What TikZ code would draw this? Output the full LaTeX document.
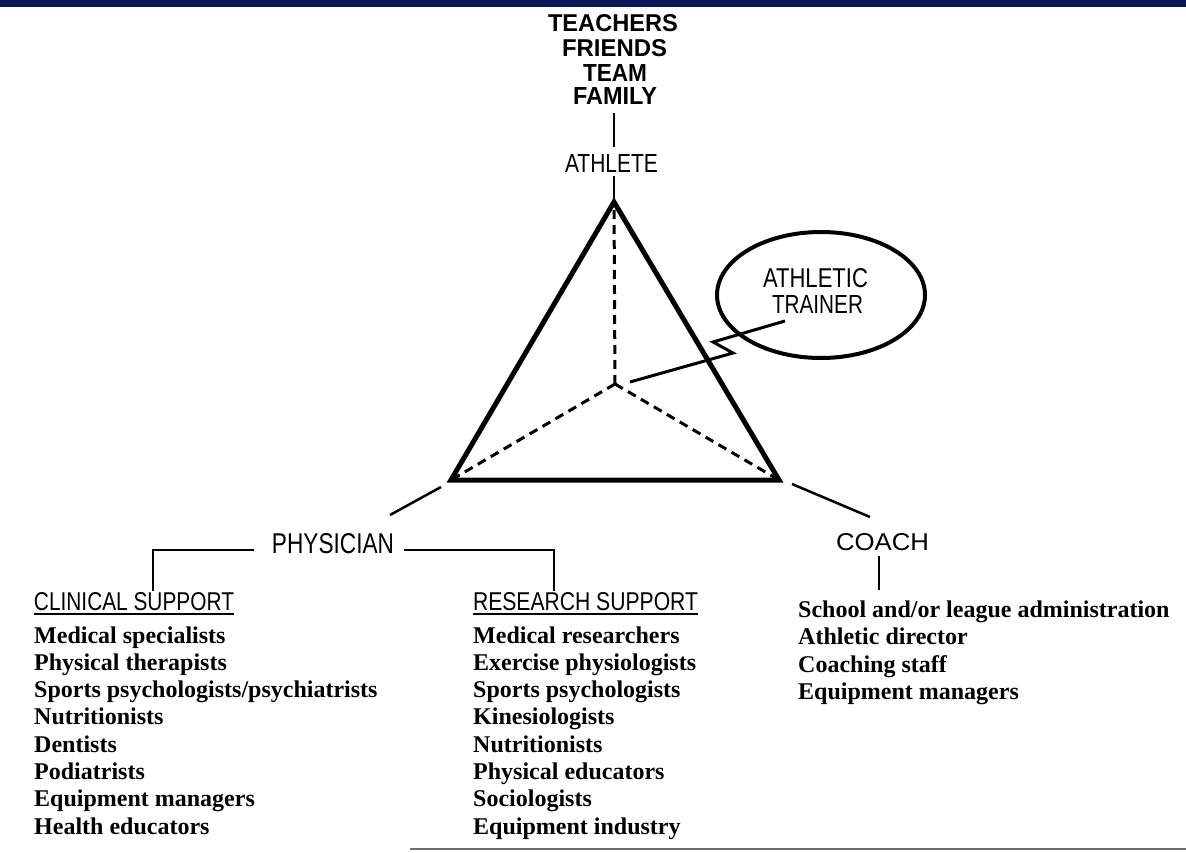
\documentclass[tikz,border=0pt]{standalone}
\usepackage{fontspec}
\usepackage{graphicx}
\newfontfamily\hvfont{Liberation Sans}
\newfontfamily\serfam{Liberation Serif}
\usetikzlibrary{shapes.geometric,calc}
\definecolor{navybar}{RGB}{10,24,84}
\definecolor{rulegray}{RGB}{110,110,110}
\newcommand{\capbox}[3]{\resizebox{#1pt}{#2pt}{\hvfont #3}}
\newcommand{\capboxb}[3]{\resizebox{#1pt}{#2pt}{\hvfont\bfseries #3}}
\begin{document}
\begin{tikzpicture}[x=1pt,y=-1pt,
  lab/.style={inner sep=0pt, anchor=base},
  item/.style={inner sep=0pt, anchor=base west, font=\serfam\bfseries\fontsize{24}{27}\selectfont},
  edge/.style={line width=2.5pt},
  boldedge/.style={line width=5pt, line join=miter},
  hidden/.style={line width=3pt, dash pattern=on 9pt off 6pt},
  trainerlink/.style={line width=3pt, line join=miter}]
\useasboundingbox (0,0) rectangle (1186,853);
\fill[navybar] (0,0) rectangle (1186,7);
\draw[rulegray, line width=2pt] (410,849) -- (1186,849);

% top labels
\node[lab] (teachers) at (613,32) {\capboxb{130}{17}{TEACHERS}};
\node[lab] (friends) at (614.5,57) {\capboxb{105}{17}{FRIENDS}};
\node[lab] (team) at (615,82) {\capboxb{64}{17}{TEAM}};
\node[lab] (family) at (615,105) {\capboxb{84}{17}{FAMILY}};
\node[lab] (athlete) at (611.5,173) {\capbox{93}{18}{ATHLETE}};

% triangle
\coordinate (apex) at (614,202);
\coordinate (bl) at (451,480);
\coordinate (br) at (779,480);
\coordinate (ctr) at (615,384);
\draw[hidden] (ctr) -- (apex);
\draw[hidden] (ctr) -- (bl);
\draw[hidden] (ctr) -- (br);
\draw[boldedge] (apex) -- (bl) -- (br) -- cycle;

% connectors near athlete
\coordinate (famlow) at (614,113);
\coordinate (athup) at (614,147);
\coordinate (athlow) at (614,176);
\draw[edge] (famlow) -- (athup);
\draw[edge] (athlow) -- (apex);

% athletic trainer
\node[draw, ellipse, line width=4pt, minimum width=208pt, minimum height=126pt, inner sep=0pt] (trainer) at (821,295) {};
\node[lab] (at1) at (815.5,287) {\capbox{105}{19}{ATHLETIC}};
\node[lab] (at2) at (817.5,313) {\capbox{91}{18}{TRAINER}};
\coordinate (z0) at (630,382);
\coordinate (z1) at (733,353);
\coordinate (z2) at (713,342);
\coordinate (zend) at (785,321);
\draw[trainerlink] (z0) -- (z1) -- (z2) -- (zend);

% physician
\node[lab] (physician) at (333,553) {\capbox{122}{20}{PHYSICIAN}};
\coordinate (blout) at (441,487);
\coordinate (physup) at (390,515);
\draw[edge] (blout) -- (physup);
\coordinate (pl1) at (254,550);
\coordinate (pl2) at (153,550);
\coordinate (pl3) at (153,591);
\coordinate (pr1) at (404,550);
\coordinate (pr2) at (554,550);
\coordinate (pr3) at (554,591);
\draw[edge] (pl1) -- (pl2) -- (pl3);
\draw[edge] (pr1) -- (pr2) -- (pr3);

% coach
\node[lab] (coach) at (882.5,550) {\capbox{93}{17}{COACH}};
\coordinate (brout) at (792,484);
\coordinate (coachup) at (870,517);
\coordinate (coachlow) at (879,556);
\coordinate (coachlist) at (879,590);
\draw[edge] (brout) -- (coachup);
\draw[edge] (coachlow) -- (coachlist);

% headings
\node[lab] (clinical) at (134,610) {\capbox{200}{18}{CLINICAL SUPPORT}};
\node[lab] (research) at (585.5,610) {\capbox{225}{18}{RESEARCH SUPPORT}};
\draw[line width=2pt] ($(clinical.base west)+(0,4)$) -- ($(clinical.base east)+(0,4)$);
\draw[line width=2pt] ($(research.base west)+(0,4)$) -- ($(research.base east)+(0,4)$);

% lists
\foreach \t [count=\i] in {Medical specialists, Physical therapists, Sports psychologists/psychiatrists, Nutritionists, Dentists, Podiatrists, Equipment managers, Health educators}
  \node[item] (cl\i) at (34,{643+27.3*(\i-1)}) {\t};
\foreach \t [count=\i] in {Medical researchers, Exercise physiologists, Sports psychologists, Kinesiologists, Nutritionists, Physical educators, Sociologists, Equipment industry}
  \node[item] (rs\i) at (473,{643+27.3*(\i-1)}) {\t};
\foreach \t [count=\i] in {School and/or league administration, Athletic director, Coaching staff, Equipment managers}
  \node[item] (co\i) at (798,{617+27.5*(\i-1)}) {\t};
\end{tikzpicture}
\end{document}
